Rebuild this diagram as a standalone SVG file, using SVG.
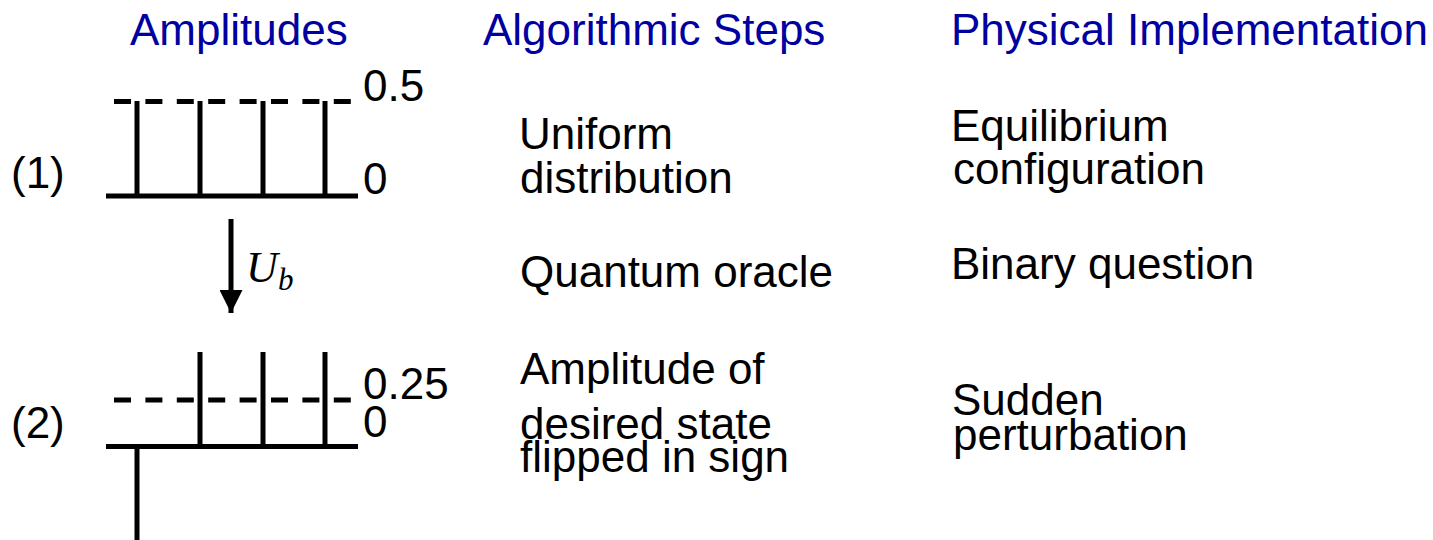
<svg xmlns="http://www.w3.org/2000/svg" width="1433" height="540" viewBox="0 0 1433 540">
<style>
text{font-family:"Liberation Sans",Arial,sans-serif;font-size:44px;fill:#000}
.hdr{fill:#0000a0}
.ln{stroke:#000;stroke-width:5;fill:none}
.dash{stroke:#000;stroke-width:5;fill:none;stroke-dasharray:17 14.4}
.math{font-family:"Liberation Serif","Times New Roman",serif;font-style:italic}
</style>
<defs>
<marker id="ah" viewBox="0 0 10 10" refX="10" refY="5" markerWidth="4.6" markerHeight="4.6" markerUnits="strokeWidth" orient="auto">
<path d="M0,0 L10,5 L0,10 z" fill="#000"/>
</marker>
</defs>
<rect width="1433" height="540" fill="#fff"/>
<g id="headers">
<text class="hdr" x="130" y="45">Amplitudes</text>
<text class="hdr" x="483" y="45">Algorithmic Steps</text>
<text class="hdr" x="951" y="45">Physical Implementation</text>
</g>
<g id="state1">
<text x="11" y="188">(1)</text>
<line class="dash" x1="114" y1="101.5" x2="351" y2="101.5"/>
<line class="ln" x1="137" y1="101" x2="137" y2="196"/>
<line class="ln" x1="200" y1="101" x2="200" y2="196"/>
<line class="ln" x1="263" y1="101" x2="263" y2="196"/>
<line class="ln" x1="325" y1="101" x2="325" y2="196"/>
<line class="ln" x1="106" y1="196" x2="358" y2="196"/>
<text x="363" y="101">0.5</text>
<text x="363" y="194">0</text>
</g>
<g id="state2">
<text x="11" y="438">(2)</text>
<line class="dash" x1="114" y1="400" x2="351" y2="400"/>
<line class="ln" x1="137" y1="446.5" x2="137" y2="540"/>
<line class="ln" x1="200" y1="352" x2="200" y2="446.5"/>
<line class="ln" x1="263" y1="352" x2="263" y2="446.5"/>
<line class="ln" x1="325" y1="352" x2="325" y2="446.5"/>
<line class="ln" x1="106" y1="446.5" x2="358" y2="446.5"/>
<text x="363" y="399">0.25</text>
<text x="363" y="437">0</text>
</g>
<g id="connectors">
<line x1="231" y1="219" x2="231" y2="313" stroke="#000" stroke-width="5" marker-end="url(#ah)"/>
<text class="math" x="246" y="282" font-size="44">U</text>
<text class="math" x="278" y="290" style="font-size:31px">b</text>
</g>
<g id="step1">
<text x="519" y="149">Uniform</text>
<text x="520" y="193">distribution</text>
</g>
<g id="step2">
<text x="520" y="287">Quantum oracle</text>
</g>
<g id="step3">
<text x="520" y="384">Amplitude of</text>
<text x="520" y="439">desired state</text>
<text x="520" y="472">flipped in sign</text>
</g>
<g id="impl1">
<text x="951" y="141">Equilibrium</text>
<text x="953" y="184">configuration</text>
</g>
<g id="impl2">
<text x="951" y="279">Binary question</text>
</g>
<g id="impl3">
<text x="952" y="415">Sudden</text>
<text x="953" y="450">perturbation</text>
</g>
</svg>
